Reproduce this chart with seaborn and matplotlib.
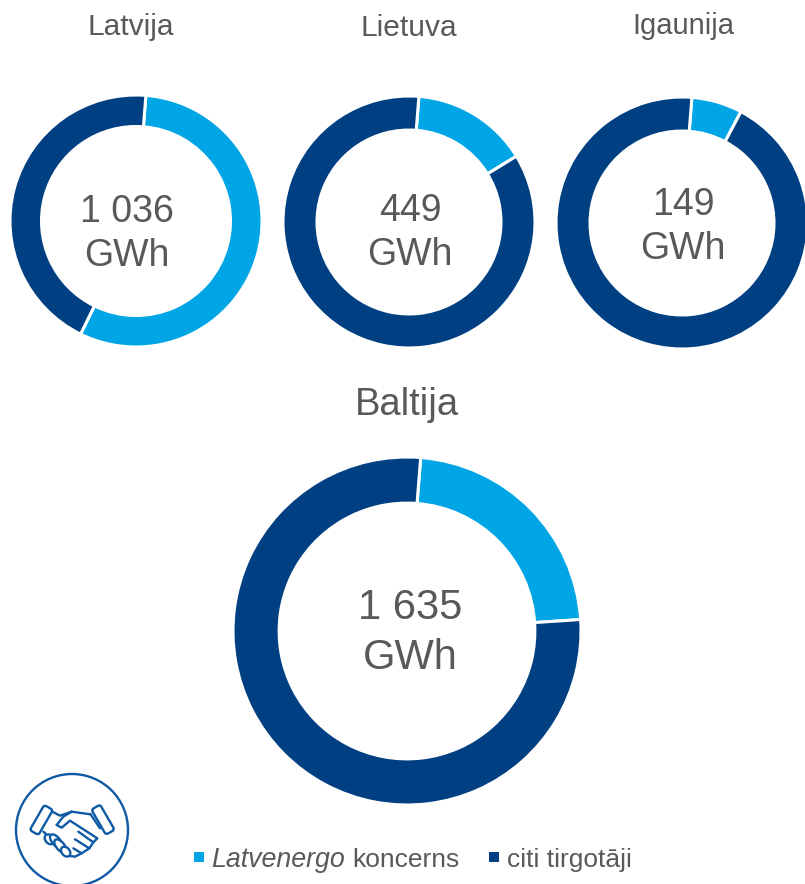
import matplotlib
matplotlib.use("Agg")
import matplotlib.pyplot as plt
from matplotlib.patches import Circle, Ellipse, FancyBboxPatch, Rectangle
from matplotlib.transforms import Affine2D
import seaborn as sns

sns.set_theme(style="white")
plt.rcParams["font.family"] = ["Liberation Sans", "DejaVu Sans"]

W, H = 805, 884
SERIES = ["Latvenergo koncerns", "citi tirgotāji"]
REGIONS = ["Latvija", "Lietuva", "Igaunija", "Baltija"]
TOTALS = ["1 036\nGWh", "449\nGWh", "149\nGWh", "1 635\nGWh"]
LATVENERGO_SHARE = [56, 15, 6.5, 22.7]
OTHER_SHARE = [44, 85, 93.5, 77.3]

palette = sns.color_palette(["#00A5E6", "#003F82"])
GREY = "#595959"
ICON = "#0F5AA5"

# cx, cy, radius, ring ratio, title x, title y, title size, total x, total y, total size, spacing
LAYOUT = [
    (136, 221, 126, 0.25, 131, 27, 21.5, 127, 234, 27, 1.27),
    (409, 222, 126, 0.27, 409, 28, 21.5, 410, 233, 27, 1.27),
    (682, 223, 126, 0.27, 683, 26, 21, 683, 227, 27, 1.27),
    (407, 631, 174, 0.265, 407, 405, 27.5, 410, 633, 30, 1.33),
]

fig = plt.figure(figsize=(W / 100, H / 100), dpi=100)
fig.patch.set_facecolor("white")

bg = fig.add_axes([0, 0, 1, 1])
bg.set_xlim(0, W)
bg.set_ylim(H, 0)
bg.axis("off")

for i, (cx, cy, r, ring, tx, ty, ts, gx, gy, gs, sp) in enumerate(LAYOUT):
    ax = fig.add_axes([(cx - r) / W, 1 - (cy + r) / H, 2 * r / W, 2 * r / H])
    ax.pie(
        [LATVENERGO_SHARE[i], OTHER_SHARE[i]],
        colors=palette,
        startangle=85.5,
        counterclock=False,
        radius=1,
        wedgeprops=dict(width=ring, edgecolor="white", linewidth=2.2),
    )
    ax.set_xlim(-1, 1)
    ax.set_ylim(-1, 1)
    bg.text(tx, ty, REGIONS[i], ha="center", va="center", fontsize=ts, color=GREY)
    bg.text(gx, gy, TOTALS[i], ha="center", va="center", fontsize=gs, color=GREY,
            linespacing=sp, zorder=5)

# legend
bg.add_patch(Rectangle((193.5, 851.5), 10, 10, color=palette[0], lw=0))
bg.add_patch(Rectangle((489, 851.5), 10, 10, color=palette[1], lw=0))
bg.text(211, 867, "Latvenergo", style="italic", fontsize=19.3, color=GREY, ha="left", va="baseline")
bg.text(352, 867, "koncerns", fontsize=19, color=GREY, ha="left", va="baseline")
bg.text(507, 867, SERIES[1], fontsize=19, color=GREY, ha="left", va="baseline")

# handshake icon (coordinates as in a 3x crop whose origin is 0,760)
def P(x, y):
    return (x / 3, y / 3 + 760)

def stroke(pts, lw=1.7):
    xs, ys = zip(*[P(*p) for p in pts])
    bg.plot(xs, ys, color=ICON, lw=lw, solid_capstyle="round", solid_joinstyle="round")

def cuff(cx, cy, length, width, angle):
    x, y = P(cx, cy)
    patch = FancyBboxPatch((x - width / 2, y - length / 2), width, length,
                           boxstyle="round,pad=0,rounding_size=2.5",
                           fill=False, ec=ICON, lw=1.7)
    patch.set_transform(Affine2D().rotate_deg_around(x, y, angle) + bg.transData)
    bg.add_patch(patch)

bg.add_patch(Circle((72, 830), 56, fill=False, ec=ICON, lw=1.7))
cuff(124, 180, 29, 10, 30)
cuff(309, 179, 29, 10, -30)
stroke([(157, 155), (180, 167), (215, 155), (272, 163)])
stroke([(170, 195), (190, 170), (215, 155)])
stroke([(170, 195), (185, 203), (210, 182), (292, 235), (280, 247), (235, 215)])
stroke([(280, 247), (268, 265), (225, 238)])
stroke([(268, 265), (245, 280), (220, 265)])
stroke([(245, 280), (225, 290), (210, 288)])
stroke([(130, 215), (138, 222)])
stroke([(272, 163), (300, 205)])
for (x, y, w, h, a) in [(148, 238, 11, 8, 50), (168, 243, 16, 8, 50), (181, 258, 16, 8, 50), (197, 275, 11, 8, 50)]:
    bg.add_patch(Ellipse(P(x, y), w, h, angle=a, fill=True, fc="white", ec=ICON, lw=1.7, zorder=5))

fig.savefig("out.png", dpi=100, facecolor="white")
